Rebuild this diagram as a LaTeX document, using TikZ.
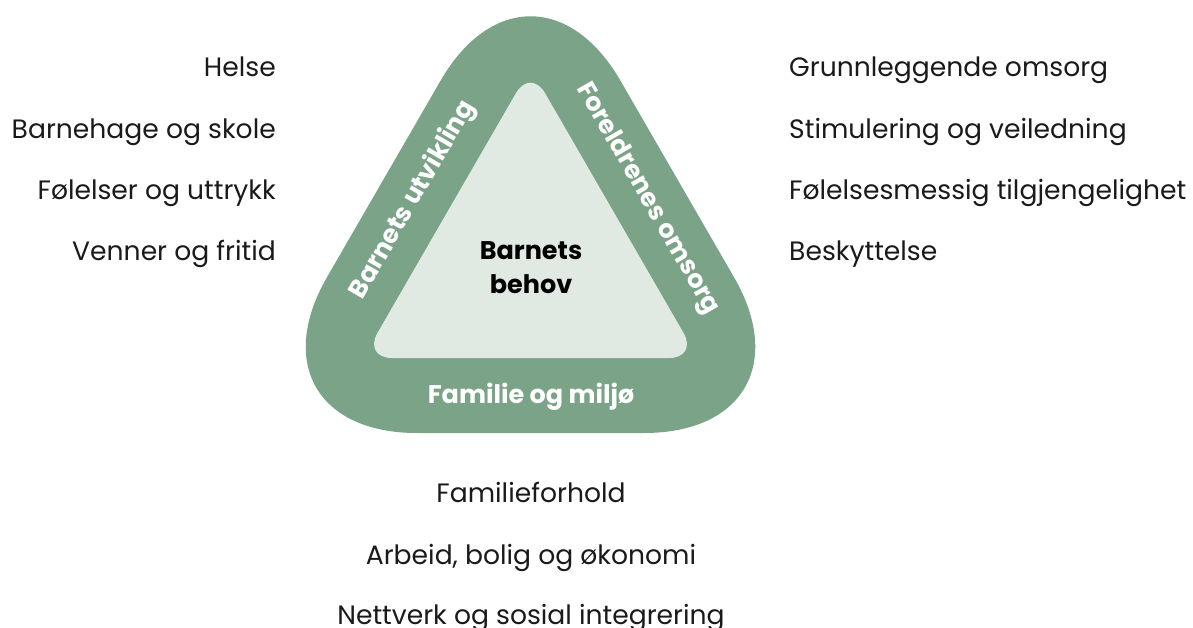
\documentclass[tikz,border=0pt]{standalone}
\usepackage{fontspec}
\setmainfont{Poppins}
\definecolor{bandgreen}{RGB}{122,163,136}
\definecolor{innergreen}{RGB}{224,234,227}
\definecolor{txt}{RGB}{26,26,26}
\begin{document}
\begin{tikzpicture}[x=1pt,y=-1pt,
  item/.style={font=\fontsize{26.6}{30}\selectfont, text=txt, inner sep=0pt},
  band/.style={font=\fontsize{25.5}{30}\selectfont\bfseries, text=white, inner sep=0pt},
  core/.style={font=\fontsize{25.5}{34}\selectfont\bfseries, text=black, inner sep=0pt, align=center}]
\useasboundingbox (0,0) rectangle (1193,628);
% outer band
\fill[bandgreen, rounded corners=180pt] (237,433) -- (824,433) -- (530.5,-75) -- cycle;
% inner triangle
\fill[innergreen, rounded corners=29pt] (363,358) -- (698,358) -- (530.5,68) -- cycle;
% center
\node[core, anchor=base] (c1) at (531,259) {Barnets};
\node[core, anchor=base] (c2) at (531,293) {behov};
% band labels
\node[band, anchor=base] (b1) at (531,403) {Familie og miljø};
\node[band, rotate=60] (b2) at (413,200) {Barnets utvikling};
\node[band, rotate=-60] (b3) at (647,199) {Foreldrenes omsorg};
% left column
\node[item, anchor=base east] (l1) at (276,77) {Helse};
\node[item, anchor=base east] (l2) at (276,139) {Barnehage og skole};
\node[item, anchor=base east] (l3) at (276,200) {Følelser og uttrykk};
\node[item, anchor=base east] (l4) at (276,261) {Venner og fritid};
% right column
\node[item, anchor=base west] (r1) at (789,77) {Grunnleggende omsorg};
\node[item, anchor=base west] (r2) at (789,139) {Stimulering og veiledning};
\node[item, anchor=base west] (r3) at (789,200) {Følelsesmessig tilgjengelighet};
\node[item, anchor=base west] (r4) at (789,261) {Beskyttelse};
% bottom
\node[item, anchor=base] (f1) at (531,502) {Familieforhold};
\node[item, anchor=base] (f2) at (531,564) {Arbeid, bolig og økonomi};
\node[item, anchor=base] (f3) at (531,624) {Nettverk og sosial integrering};
\end{tikzpicture}
\end{document}
